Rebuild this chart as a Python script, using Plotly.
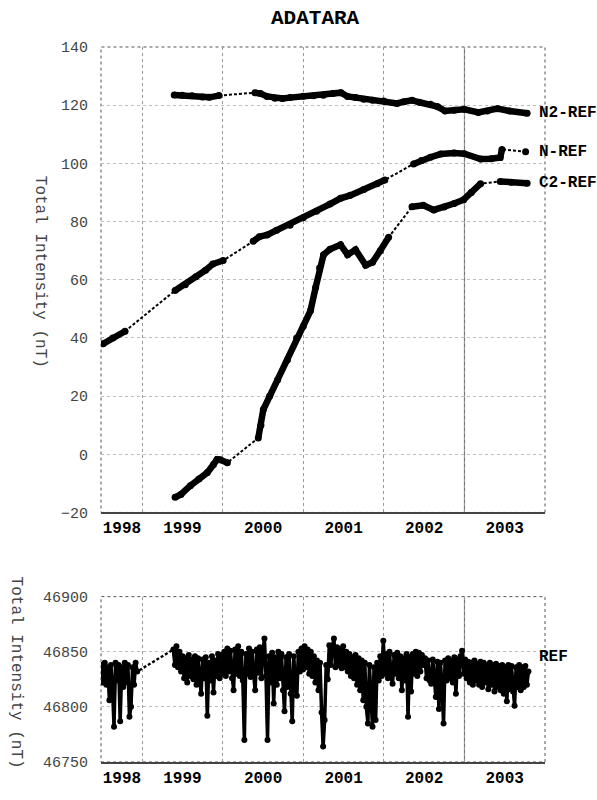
import plotly.graph_objects as go
import pandas as pd

# ---------------- data ----------------
year_labels = ["1998", "1999", "2000", "2001", "2002", "2003"]
year_label_dates = ["1998-10-01", "1999-07-02", "2000-07-02", "2001-07-02", "2002-07-02", "2003-07-02"]
year_boundaries = ["1999-01-01", "2000-01-01", "2001-01-01", "2002-01-01", "2003-01-01"]
solid_boundary = "2003-01-01"
x_range = ["1998-06-28", "2004-01-01"]

# None marks a data gap (drawn as a dashed connector)
n2_dates = ["1999-05-26", "1999-07-01", "1999-08-15", "1999-10-01", "1999-11-01", "1999-12-15", None,
            "2000-05-26", "2000-06-20", "2000-07-20", "2000-08-25", "2000-09-28", "2000-11-01", "2000-12-31",
            "2001-02-15", "2001-04-01", "2001-05-15", "2001-06-20", "2001-07-20", "2001-08-25", "2001-10-01",
            "2001-11-10", "2001-12-31", "2002-03-01", "2002-04-01", "2002-05-08", "2002-06-10", "2002-07-31",
            "2002-09-01", "2002-10-05", "2002-11-15", "2002-12-31", "2003-03-05", "2003-04-15", "2003-05-30",
            "2003-07-25", "2003-10-12"]
n2_vals = [123.5, 123.4, 123.2, 122.8, 122.7, 123.3, None,
           124.3, 124.0, 123.0, 122.4, 122.3, 122.6, 123.1,
           123.2, 123.4, 124.0, 124.3, 123.0, 122.6, 122.0,
           121.7, 121.4, 120.6, 121.2, 121.7, 121.0, 120.3,
           119.5, 118.0, 118.3, 118.6, 117.5, 118.0, 118.8,
           118.0, 117.2]

n_dates = ["1998-07-08", "1998-08-20", "1998-10-15", None,
           "1999-05-30", "1999-07-15", "1999-09-01", "1999-10-15", "1999-11-17", "2000-01-03", None,
           "2000-05-18", "2000-06-15", "2000-07-20", "2000-09-01", "2000-11-01", "2000-12-31", "2001-03-01",
           "2001-05-01", "2001-06-18", "2001-08-01", "2001-10-01", "2001-12-01", "2002-01-05", None,
           "2002-05-15", "2002-06-20", "2002-07-31", "2002-09-15", "2002-11-15", "2002-12-31", "2003-03-15",
           "2003-05-01", "2003-06-12", "2003-06-20", None,
           "2003-10-05"]
n_vals = [38.0, 40.0, 42.3, None,
          56.3, 58.3, 61.0, 63.3, 65.4, 66.6, None,
          73.2, 74.8, 75.4, 77.0, 78.7, 81.3, 83.5,
          86.0, 88.0, 89.0, 91.0, 93.0, 94.3, None,
          99.8, 101.0, 102.1, 103.2, 103.6, 103.3, 101.5,
          101.6, 102.0, 104.8, None,
          104.0]

c2_dates = ["1999-05-30", "1999-06-25", "1999-08-07", "1999-09-15", "1999-10-23", "1999-11-20", "1999-12-06",
            "1999-12-20", "2000-01-22", None,
            "2000-06-10", "2000-06-22", "2000-07-03", "2000-08-01", "2000-09-06", "2000-10-20", "2000-12-01",
            "2000-12-31", "2001-02-02", "2001-02-25", "2001-03-15", "2001-04-02", "2001-05-01", "2001-06-18",
            "2001-07-20", "2001-08-25", "2001-10-10", "2001-11-10", "2001-12-15", "2002-01-22", None,
            "2002-05-08", "2002-06-28", "2002-08-15", "2002-10-01", "2002-11-15", "2002-12-28", "2003-02-01",
            "2003-03-15", None,
            "2003-06-12", "2003-08-01", "2003-10-12"]
c2_vals = [-14.8, -13.8, -10.8, -8.5, -6.3, -3.5, -1.8,
           -1.9, -2.9, None,
           5.6, 10.0, 15.4, 20.0, 25.6, 32.4, 40.0,
           44.0, 49.4, 57.3, 64.0, 68.6, 70.5, 72.0,
           68.6, 70.3, 65.0, 66.0, 70.0, 74.6, None,
           85.1, 85.6, 84.0, 85.0, 86.2, 87.5, 90.0,
           93.0, None,
           93.8, 93.5, 93.2]

series_names = ["N2-REF", "N-REF", "C2-REF"]

# REF total intensity (nT), weekly readings
ref_step = "7D"
ref_seg1_start = "1998-07-01"
ref_seg1_vals = [46838, 46822, 46840, 46820, 46836, 46806, 46838, 46818, 46782, 46840,
                 46824, 46838, 46787, 46836, 46818, 46840, 46822, 46838, 46791, 46800,
                 46836, 46820, 46840, 46832]
ref_seg2_start = "1999-05-22"
ref_seg2_vals = [
    # 1999
    46852, 46838, 46855, 46836, 46850, 46832, 46846, 46826, 46844, 46822,
    46847, 46828, 46843, 46825, 46846, 46820, 46844, 46824, 46812, 46843,
    46826, 46845, 46792, 46840, 46824, 46846, 46813, 46842, 46828, 46848,
    46826, 46847,
    # 2000
    46830, 46850, 46828, 46853, 46832, 46851, 46826, 46815, 46852, 46830,
    46855, 46828, 46850, 46824, 46770, 46848, 46830, 46853, 46827, 46850,
    46829, 46815, 46852, 46831, 46854, 46826, 46850, 46862, 46828, 46770,
    46846, 46822, 46849, 46803, 46845, 46820, 46850, 46826, 46848, 46815,
    46796, 46845, 46818, 46848, 46812, 46787, 46846, 46820, 46810, 46850,
    46832, 46853,
    # 2001
    46834, 46855, 46836, 46852, 46830, 46850, 46828, 46846, 46822, 46842,
    46815, 46840, 46795, 46764, 46788, 46838, 46825, 46856, 46838, 46855,
    46862, 46836, 46854, 46838, 46852, 46835, 46855, 46836, 46850, 46832,
    46848, 46828, 46845, 46826, 46847, 46820, 46844, 46815, 46842, 46806,
    46840, 46800, 46785, 46838, 46808, 46782, 46836, 46788, 46840, 46824,
    46846, 46828,
    # 2002
    46860, 46830, 46848, 46826, 46850, 46828, 46821, 46847, 46830, 46849,
    46826, 46846, 46815, 46844, 46824, 46848, 46791, 46845, 46814, 46848,
    46830, 46850, 46828, 46849, 46832, 46847, 46838, 46844, 46826, 46842,
    46824, 46821, 46843, 46822, 46809, 46841, 46798, 46840, 46820, 46785,
    46842, 46824, 46844, 46826, 46842, 46822, 46845, 46812, 46843, 46828,
    46846, 46851,
    # 2003
    46830, 46843, 46826, 46841, 46822, 46840, 46820, 46842, 46824, 46839,
    46820, 46841, 46818, 46840, 46822, 46838, 46816, 46840, 46820, 46838,
    46814, 46839, 46818, 46837, 46815, 46838, 46812, 46836, 46805, 46838,
    46816, 46837, 46814, 46801, 46836, 46818, 46838, 46815, 46836, 46818,
    46837, 46820, 46832]
ref_label = "REF"
ref_label_value = 46845

title_text = "ADATARA"
y_title = "Total Intensity (nT)"

# ---------------- figure ----------------
MONO = "Liberation Mono, Courier New, monospace"
fig = go.Figure()


def add_series(dates, vals, xa, ya, width, msize, dash_width):
    pts = [(d, v) for d, v in zip(dates, vals) if v is not None]
    fig.add_trace(go.Scatter(
        x=[p[0] for p in pts], y=[p[1] for p in pts], xaxis=xa, yaxis=ya,
        mode="lines", line=dict(color="black", width=dash_width, dash="3px,2px"),
        hoverinfo="skip", showlegend=False))
    fig.add_trace(go.Scatter(
        x=dates, y=vals, xaxis=xa, yaxis=ya, connectgaps=False,
        mode="lines+markers", line=dict(color="black", width=width),
        marker=dict(color="black", size=msize), showlegend=False))


add_series(n2_dates, n2_vals, "x", "y", 6.5, 7, 2)
add_series(n_dates, n_vals, "x", "y", 6.5, 7, 2)
add_series(c2_dates, c2_vals, "x", "y", 6.5, 7, 2)

ref1_dates = pd.date_range(ref_seg1_start, periods=len(ref_seg1_vals), freq=ref_step).strftime("%Y-%m-%d").tolist()
ref2_dates = pd.date_range(ref_seg2_start, periods=len(ref_seg2_vals), freq=ref_step).strftime("%Y-%m-%d").tolist()
add_series(ref1_dates + [None] + ref2_dates, ref_seg1_vals + [None] + ref_seg2_vals,
           "x2", "y2", 3.5, 6, 2.4)

grid_c = "#9a9a9a"
xcommon = dict(
    type="date", range=x_range, tickmode="array", tickvals=year_label_dates, ticktext=year_labels,
    ticks="", showgrid=False, zeroline=False,
    tickfont=dict(family=MONO, size=16, color="black", weight="bold"),
    minor=dict(tickmode="array", tickvals=year_boundaries, showgrid=True,
               gridcolor=grid_c, griddash="dot", gridwidth=1, ticks=""),
    showline=True, linecolor="#444", linewidth=1.5,
)
ycommon = dict(showgrid=True, gridcolor="#bdbdbd", griddash="dot", gridwidth=1, zeroline=False,
               ticks="", ticklabelstandoff=12, tickformat="d",
               tickfont=dict(family=MONO, size=15, color="#444"))
fig.update_layout(
    width=597, height=800,
    margin=dict(l=101, r=52, t=47, b=31),
    paper_bgcolor="white", plot_bgcolor="white",
    showlegend=False,
    xaxis=dict(domain=[0, 1], anchor="y", **xcommon),
    xaxis2=dict(domain=[0, 1], anchor="y2", **xcommon),
    yaxis=dict(domain=[0.349, 1.0], anchor="x", range=[-20, 140], tickmode="linear", tick0=-20, dtick=20,
               **ycommon),
    yaxis2=dict(domain=[0.0, 0.2313], anchor="x2", range=[46750, 46900], tickmode="linear", tick0=46750,
                dtick=50, **ycommon),
)

# frames and emphasised boundary
for xd, yd in (("x domain", "y domain"), ("x2 domain", "y2 domain")):
    fig.add_shape(type="rect", xref=xd, yref=yd, x0=0, x1=1, y0=0, y1=1,
                  line=dict(color="#555", width=1, dash="dot"), layer="below")
for xr, yd in (("x", "y domain"), ("x2", "y2 domain")):
    fig.add_shape(type="line", xref=xr, yref=yd, x0=solid_boundary, x1=solid_boundary, y0=0, y1=1,
                  line=dict(color="#777", width=1.2), layer="below")

# series labels at each series' last value
label_font = dict(family=MONO, size=16, color="black", weight="bold")
for name, vals in zip(series_names, (n2_vals, n_vals, c2_vals)):
    last = [v for v in vals if v is not None][-1]
    fig.add_annotation(text=name, xref="paper", yref="y", x=0.982, y=last, xanchor="left",
                       yanchor="middle", showarrow=False, font=label_font)
fig.add_annotation(text=ref_label, xref="paper", yref="y2", x=0.982, y=ref_label_value, xanchor="left",
                   yanchor="middle", showarrow=False, font=label_font)

# title
fig.add_annotation(text=title_text, xref="paper", yref="paper", x=0.484, y=1.0402, xanchor="center",
                   yanchor="middle", showarrow=False,
                   font=dict(family=MONO, size=21, color="black", weight="bold"))
# y axis titles (reading top to bottom)
fig.add_annotation(text=y_title, xref="paper", yref="paper", x=-0.1374, y=0.6856, textangle=90,
                   xanchor="center", yanchor="middle",
                   showarrow=False, font=dict(family=MONO, size=16, color="#444"))
fig.add_annotation(text=y_title, xref="paper", yref="paper", x=-0.1914, y=0.125, textangle=90,
                   xanchor="center", yanchor="middle",
                   showarrow=False, font=dict(family=MONO, size=16, color="#444"))

fig.write_html("out.html")
